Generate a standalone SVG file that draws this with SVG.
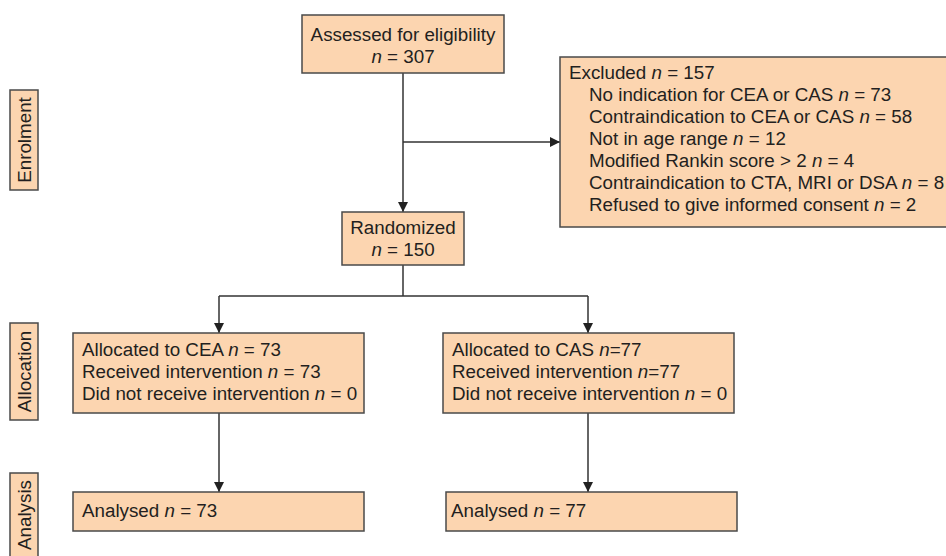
<svg xmlns="http://www.w3.org/2000/svg" width="946" height="556" viewBox="0 0 946 556">
<defs>
<style>
.box{fill:#fcd5b0;stroke:#4a4a4a;stroke-width:1.5}
.t{font-family:"Liberation Sans",Arial,sans-serif;font-size:18.8px;fill:#231f20}
.c{text-anchor:middle}
.i{font-style:italic}
.ln{fill:none;stroke:#333;stroke-width:1.5}
</style>
<marker id="ah" viewBox="0 0 10 10" refX="10" refY="5" markerWidth="10" markerHeight="10" markerUnits="userSpaceOnUse" orient="auto">
<path d="M0,0 L10,5 L0,10 z" fill="#222"/>
</marker>
</defs>
<rect width="946" height="556" fill="#fff"/>

<g id="lbl-enrolment">
<rect class="box" x="10" y="90" width="28" height="100"/>
<text class="t c" transform="translate(31,140) rotate(-90)">Enrolment</text>
</g>
<g id="lbl-allocation">
<rect class="box" x="10" y="323" width="28" height="97"/>
<text class="t c" transform="translate(31,371.5) rotate(-90)">Allocation</text>
</g>
<g id="lbl-analysis">
<rect class="box" x="10" y="473" width="28" height="90"/>
<text class="t c" transform="translate(31,515) rotate(-90)">Analysis</text>
</g>

<g id="connectors">
<line class="ln" x1="403" y1="73" x2="403" y2="212" marker-end="url(#ah)"/>
<line class="ln" x1="403" y1="142" x2="560" y2="142" marker-end="url(#ah)"/>
<polyline class="ln" points="403,265 403,296"/>
<polyline class="ln" points="219,296 588,296"/>
<line class="ln" x1="219" y1="296" x2="219" y2="333" marker-end="url(#ah)"/>
<line class="ln" x1="588" y1="296" x2="588" y2="333" marker-end="url(#ah)"/>
<line class="ln" x1="219" y1="413" x2="219" y2="492" marker-end="url(#ah)"/>
<line class="ln" x1="588" y1="413" x2="588" y2="492" marker-end="url(#ah)"/>
</g>

<g id="assessed">
<rect class="box" x="302" y="15" width="202" height="58"/>
<text class="t c" x="403" y="41">Assessed for eligibility</text>
<text class="t c" x="403" y="63"><tspan class="i">n</tspan> = 307</text>
</g>

<g id="excluded">
<rect class="box" x="560" y="57" width="400" height="170"/>
<text class="t" x="569" y="79">Excluded <tspan class="i">n</tspan> = 157</text>
<text class="t" x="589" y="101">No indication for CEA or CAS <tspan class="i">n</tspan> = 73</text>
<text class="t" x="589" y="123">Contraindication to CEA or CAS <tspan class="i">n</tspan> = 58</text>
<text class="t" x="589" y="145">Not in age range <tspan class="i">n</tspan> = 12</text>
<text class="t" x="589" y="167">Modified Rankin score &gt; 2 <tspan class="i">n</tspan> = 4</text>
<text class="t" x="589" y="189">Contraindication to CTA, MRI or DSA <tspan class="i">n</tspan> = 8</text>
<text class="t" x="589" y="211">Refused to give informed consent <tspan class="i">n</tspan> = 2</text>
</g>

<g id="randomized">
<rect class="box" x="342" y="212" width="122" height="53"/>
<text class="t c" x="403" y="234">Randomized</text>
<text class="t c" x="403" y="256"><tspan class="i">n</tspan> = 150</text>
</g>

<g id="alloc-cea">
<rect class="box" x="73" y="333" width="291" height="80"/>
<text class="t" x="82" y="356">Allocated to CEA <tspan class="i">n</tspan> = 73</text>
<text class="t" x="82" y="378">Received intervention <tspan class="i">n</tspan> = 73</text>
<text class="t" x="82" y="400">Did not receive intervention <tspan class="i">n</tspan> = 0</text>
</g>

<g id="alloc-cas">
<rect class="box" x="443" y="333" width="291" height="80"/>
<text class="t" x="452" y="356">Allocated to CAS <tspan class="i">n</tspan>=77</text>
<text class="t" x="452" y="378">Received intervention <tspan class="i">n</tspan>=77</text>
<text class="t" x="452" y="400">Did not receive intervention <tspan class="i">n</tspan> = 0</text>
</g>

<g id="analysed-cea">
<rect class="box" x="73" y="492" width="291" height="39"/>
<text class="t" x="82" y="517">Analysed <tspan class="i">n</tspan> = 73</text>
</g>

<g id="analysed-cas">
<rect class="box" x="446" y="492" width="291" height="39"/>
<text class="t" x="451" y="517">Analysed <tspan class="i">n</tspan> = 77</text>
</g>
</svg>
